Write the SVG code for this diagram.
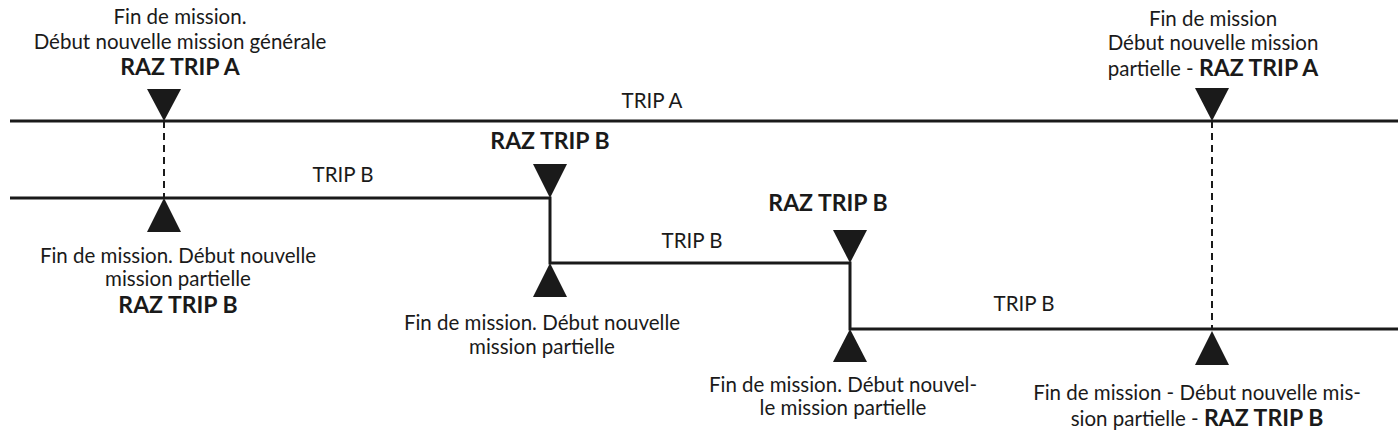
<svg xmlns="http://www.w3.org/2000/svg" width="1398" height="434" viewBox="0 0 1398 434">
<style>
text{font-family:"Lato","Liberation Sans",sans-serif;font-size:20.5px;fill:#1a1a1a;text-anchor:middle}
.b{font-weight:bold;font-size:23px}
.l{stroke:#1a1a1a;stroke-width:3;fill:none}
.d{stroke:#1a1a1a;stroke-width:2;fill:none;stroke-dasharray:7,5}
.t{fill:#1a1a1a}
</style>
<rect width="1398" height="434" fill="#fff"/>
<g id="connectors">
<line class="l" x1="10" y1="121" x2="1398" y2="121"/>
<path class="l" d="M10 198 H550 V263 H850 V329 H1398"/>
<line class="d" x1="164" y1="121" x2="164" y2="198"/>
<line class="d" x1="1212" y1="121" x2="1212" y2="329"/>
</g>
<g id="m1">
<polygon class="t" points="147,89 181,89 164,121"/>
<polygon class="t" points="164,198 147,232 181,232"/>
<text x="180" y="24">Fin de mission.</text>
<text x="180" y="49">Début nouvelle mission générale</text>
<text x="180" y="75" class="b">RAZ TRIP A</text>
<text x="178" y="263">Fin de mission. Début nouvelle</text>
<text x="178" y="286">mission partielle</text>
<text x="178" y="313" class="b">RAZ TRIP B</text>
</g>
<g id="labels">
<text x="652" y="108">TRIP A</text>
<text x="343" y="182">TRIP B</text>
<text x="692" y="248">TRIP B</text>
<text x="1024" y="311">TRIP B</text>
</g>
<g id="m2">
<polygon class="t" points="533,164 567,164 550,198"/>
<polygon class="t" points="550,263 533,297 567,297"/>
<text x="550" y="149" class="b">RAZ TRIP B</text>
<text x="542" y="330">Fin de mission. Début nouvelle</text>
<text x="542" y="354">mission partielle</text>
</g>
<g id="m3">
<polygon class="t" points="833,230 867,230 850,263"/>
<polygon class="t" points="850,329 833,362 867,362"/>
<text x="828" y="211" class="b">RAZ TRIP B</text>
<text x="843" y="392">Fin de mission. Début nouvel-</text>
<text x="843" y="415">le mission partielle</text>
</g>
<g id="m4">
<polygon class="t" points="1195,88 1229,88 1212,121"/>
<polygon class="t" points="1212,331 1195,365 1229,365"/>
<text x="1213" y="26">Fin de mission</text>
<text x="1213" y="50">Début nouvelle mission</text>
<text x="1213" y="76">partielle - <tspan class="b">RAZ TRIP A</tspan></text>
<text x="1197" y="400">Fin de mission - Début nouvelle mis-</text>
<text x="1197" y="426">sion partielle - <tspan class="b">RAZ TRIP B</tspan></text>
</g>
</svg>
